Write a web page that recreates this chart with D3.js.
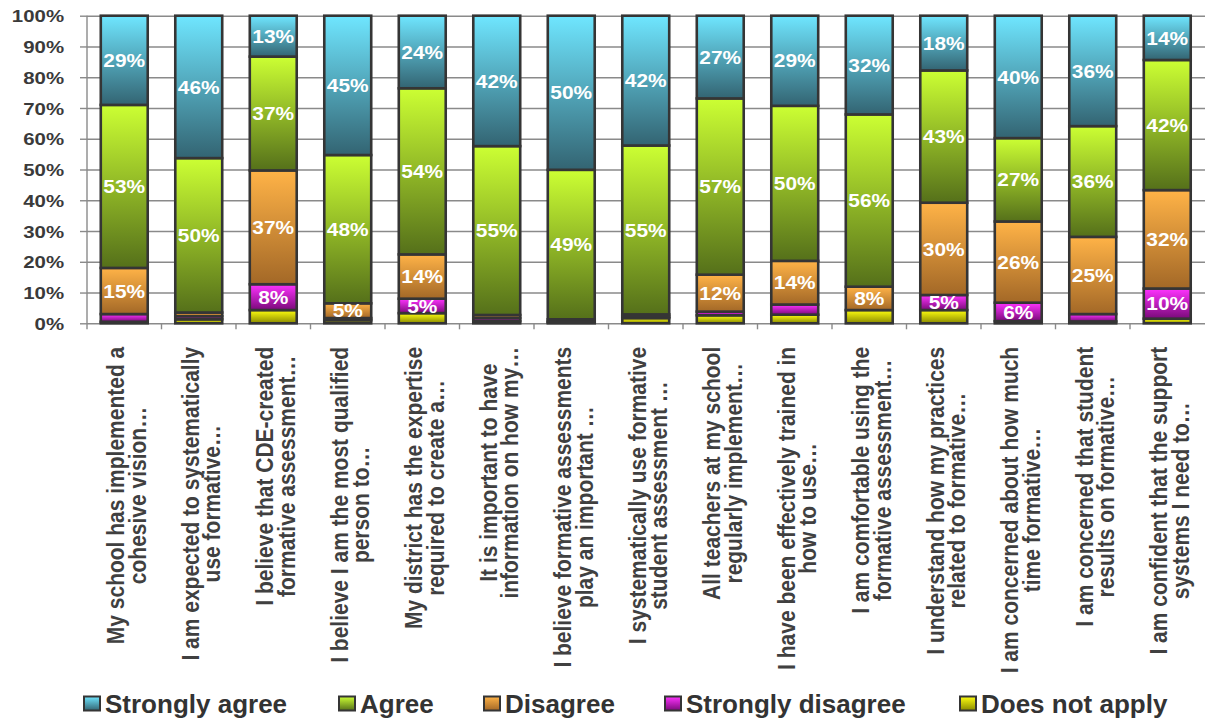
<!DOCTYPE html>
<html><head><meta charset="utf-8">
<script src="https://cdn.jsdelivr.net/npm/d3@7"></script>
<style>
body{margin:0;background:#fff}
svg{display:block}
text{font-family:"Liberation Sans",Arial,Helvetica,sans-serif;font-weight:bold}
</style>
</head><body>
<svg id="chart" width="1205" height="724"></svg>
<script>
// ---------- data ----------
const categories = [
  "My school has implemented a\ncohesive vision…",
  "I am expected to systematically\nuse formative…",
  "I believe that CDE-created\nformative assessment…",
  "I believe I am the most qualified\nperson to…",
  "My district has the expertise\nrequired to create a…",
  "It is important to have\ninformation on how my…",
  "I believe formative assessments\nplay an important …",
  "I systematically use formative\nstudent assessment …",
  "All teachers at my school\nregularly implement…",
  "I have been effectively trained in\nhow to use…",
  "I am comfortable using the\nformative assessment…",
  "I understand how my practices\nrelated to formative…",
  "I am concerned about how much\ntime formative…",
  "I am concerned that student\nresults on formative…",
  "I am confident that the support\nsystems I need to…"
];
const seriesNames = ["Strongly agree", "Agree", "Disagree", "Strongly disagree", "Does not apply"];
const stronglyAgree    = [29.0, 46.3, 13.3, 45.3, 23.6, 42.4, 50.1, 42.2, 26.9, 29.3, 32.1, 17.8, 39.8, 35.9, 14.4];
const agree            = [53.0, 50.2, 37.0, 48.2, 54.0, 54.9, 48.6, 54.9, 57.3, 50.4, 56.0, 43.0, 27.1, 36.0, 42.3];
const disagree         = [15.0,  1.2, 37.0,  4.8, 14.4,  1.0,  0.7,  0.7, 12.0, 14.2,  7.6, 30.0, 26.4, 25.1, 32.0];
const stronglyDisagree = [ 2.5,  1.0,  8.4,  0.7,  4.7,  1.0,  0.3,  0.5,  1.2,  3.3,  0.0,  4.9,  6.0,  2.4,  9.8];
const doesNotApply     = [ 0.5,  1.3,  4.3,  1.0,  3.3,  0.7,  0.3,  1.7,  2.6,  2.8,  4.3,  4.3,  0.7,  0.6,  1.5];
const yTickValues = [0, 10, 20, 30, 40, 50, 60, 70, 80, 90, 100];
const yTickLabels = ["0%", "10%", "20%", "30%", "40%", "50%", "60%", "70%", "80%", "90%", "100%"];

// ---------- styling ----------
const colors = {
  "Strongly agree":    ["#6fe6ff", "#336472"],
  "Agree":             ["#ccff33", "#55701a"],
  "Disagree":          ["#ffb347", "#a36827"],
  "Strongly disagree": ["#ff33ff", "#7a0a7a"],
  "Does not apply":    ["#ffff10", "#8a8a00"]
};
const valuesBySeries = {
  "Strongly agree": stronglyAgree, "Agree": agree, "Disagree": disagree,
  "Strongly disagree": stronglyDisagree, "Does not apply": doesNotApply
};
const table = categories.map((c, i) => {
  const row = {cat: c};
  seriesNames.forEach(s => row[s] = valuesBySeries[s][i]);
  return row;
});
const stackKeys = seriesNames.slice().reverse(); // bottom -> top

const svg = d3.select("#chart");
const plotL = 87, plotR = 1204.5, plotT = 15.7, plotB = 323.3;
const SX = 1.18; // horizontal text stretch

const x = d3.scaleBand().domain(categories).range([plotL, plotR]).paddingInner(0.37).paddingOuter(0.185);
const y = d3.scaleLinear().domain([0, 100]).range([plotB, plotT]);

// gradients
const defs = svg.append("defs");
seriesNames.forEach((s, i) => {
  const g = defs.append("linearGradient").attr("id", "g" + i)
    .attr("x1", 0).attr("y1", 0).attr("x2", 0).attr("y2", 1);
  g.append("stop").attr("offset", "0%").attr("stop-color", colors[s][0]);
  g.append("stop").attr("offset", "100%").attr("stop-color", colors[s][1]);
});
const gradId = s => "url(#g" + seriesNames.indexOf(s) + ")";

// gridlines
const grid = svg.append("g").attr("transform", `translate(${plotL},0)`)
  .call(d3.axisLeft(y).tickValues(yTickValues).tickSize(-(1205 - plotL)).tickFormat(""));
grid.select(".domain").remove();
grid.selectAll("line").attr("stroke", "#8a8a8a").attr("stroke-width", 1.4);

// y axis with labels
const yAxis = svg.append("g").attr("transform", `translate(${plotL},0)`)
  .call(d3.axisLeft(y).tickValues(yTickValues).tickSize(7).tickPadding(0)
        .tickFormat((d, i) => yTickLabels[i]));
yAxis.select(".domain").attr("stroke", "#8a8a8a").attr("stroke-width", 1.4)
  .attr("d", `M0,${plotT}V${plotB + 6}`);
yAxis.selectAll(".tick line").attr("stroke", "#8a8a8a").attr("stroke-width", 1.4);
yAxis.selectAll(".tick text")
  .attr("fill", "#3a3a3a").attr("font-size", 17).attr("font-family", null)
  .attr("x", -23 / 1.2).attr("dy", "0.36em")
  .attr("transform", "scale(1.2,1)");

// x axis (labels + boundary ticks)
const xAxis = svg.append("g").attr("transform", `translate(0,${plotB})`)
  .call(d3.axisBottom(x).tickSize(0).tickFormat(""));
xAxis.select(".domain").remove();
const step = x.step();
svg.append("g").selectAll("line").data(categories.slice(1)).join("line")
  .attr("x1", d => x(d) - step * x.paddingInner() / 2)
  .attr("x2", d => x(d) - step * x.paddingInner() / 2)
  .attr("y1", plotB).attr("y2", plotB + 6)
  .attr("stroke", "#8a8a8a").attr("stroke-width", 1.4);

const lblFont = 21;
xAxis.selectAll(".tick").each(function(d) {
  const lines = d.split("\n");
  const t = d3.select(this).append("text")
    .attr("fill", "#404040").attr("font-size", lblFont)
    .attr("text-anchor", "middle");
  const spans = lines.map((ln, k) => t.append("tspan").attr("x", 0).attr("y", k * 18.3).text(ln));
  const maxLen = d3.max(spans, sp => sp.node().getComputedTextLength());
  spans.forEach(sp => sp.attr("x", -maxLen / 2));
  t.attr("transform", `translate(0,${346.7 - plotB}) scale(${SX},1) rotate(-90)`);
});

// bars
const stacked = d3.stack().keys(stackKeys)(table);
const layers = svg.append("g").selectAll("g").data(stacked).join("g")
  .attr("fill", d => gradId(d.key));
layers.selectAll("rect").data(d => d).join("rect")
  .attr("x", d => x(d.data.cat))
  .attr("width", x.bandwidth())
  .attr("y", d => y(d[1]))
  .attr("height", d => y(d[0]) - y(d[1]))
  .attr("stroke", "#353535").attr("stroke-width", 2.6);

// data labels
const labels = svg.append("g");
stacked.forEach(layer => {
  layer.forEach(d => {
    const v = d[1] - d[0];
    if (Math.round(v) < 5) return;
    labels.append("text")
      .attr("transform", `translate(${x(d.data.cat) + x.bandwidth() / 2},${y((d[0] + d[1]) / 2)}) scale(1.13,1)`)
      .attr("text-anchor", "middle").attr("dy", "0.36em")
      .attr("font-size", 18.5).attr("fill", "#ffffff")
      .text(Math.round(v) + "%");
  });
});

// legend
const legendX = [83, 338, 483, 664, 959];
const lg = svg.append("g").selectAll("g").data(seriesNames).join("g")
  .attr("transform", (d, i) => `translate(${legendX[i]},0)`);
lg.append("rect").attr("x", 1).attr("y", 696.5).attr("width", 16).attr("height", 14)
  .attr("fill", d => gradId(d)).attr("stroke", "#353535").attr("stroke-width", 2);
lg.append("text").attr("x", 22).attr("y", 713).attr("font-size", 26)
  .attr("fill", "#333333").text(d => d);
</script>
</body></html>
